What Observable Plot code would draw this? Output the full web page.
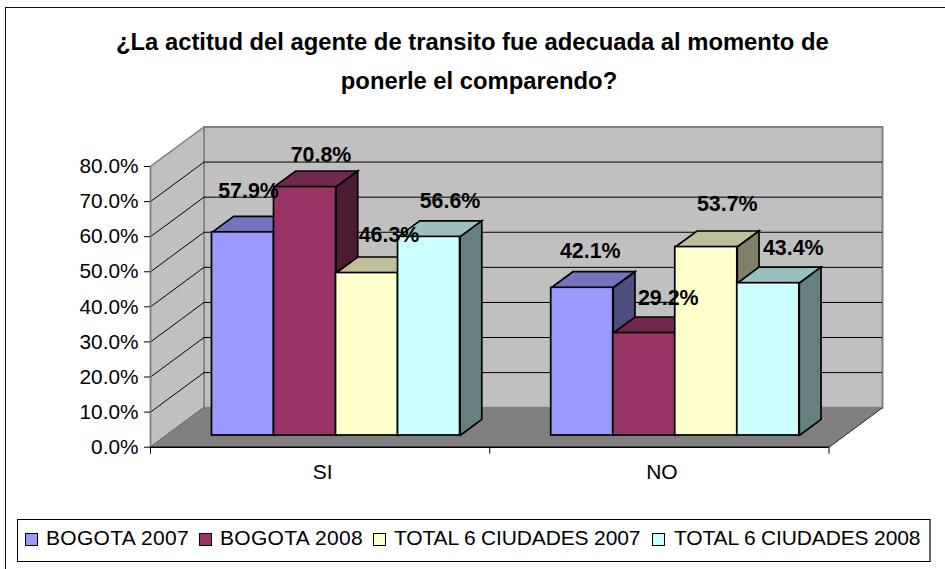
<!DOCTYPE html>
<html><head><meta charset="utf-8">
<script src="https://cdn.jsdelivr.net/npm/d3@7"></script>
<script src="https://cdn.jsdelivr.net/npm/@observablehq/plot@0.6"></script>
<style>
html,body{margin:0;padding:0;background:#fff;}
#page{position:relative;width:945px;height:569px;overflow:hidden;font-family:"Liberation Sans",Arial,sans-serif;color:#000;}
#frame{position:absolute;left:5px;top:7px;width:940px;height:562px;border-left:1.5px solid #111;border-top:1.5px solid #111;box-sizing:border-box;}
#title{position:absolute;left:0;top:22px;width:958px;text-align:center;font-weight:bold;font-size:23.8px;line-height:39px;}
#chart{position:absolute;left:0;top:0;}
#legend{position:absolute;left:17px;top:519px;width:914px;height:43px;border:1px solid #000;box-sizing:border-box;border-right:2px solid #666;}
.sw{position:absolute;top:13px;width:13px;height:13px;box-sizing:border-box;border:1.5px solid #000;}
.lb{position:absolute;top:5.5px;font-size:21px;line-height:24px;white-space:nowrap;}
</style></head>
<body><div id="page">
<div id="frame"></div>
<div id="title">¿La actitud del agente de transito fue adecuada al momento de&nbsp;&nbsp;<br>ponerle el comparendo?</div>
<div id="chart"></div>
<div id="legend"></div>
</div>
<script>
const categories = ["SI", "NO"];
const seriesNames = ["BOGOTA 2007", "BOGOTA 2008", "TOTAL 6 CIUDADES 2007", "TOTAL 6 CIUDADES 2008"];
const bogota2007 = [57.9, 42.1];
const bogota2008 = [70.8, 29.2];
const total2007 = [46.3, 53.7];
const total2008 = [56.6, 43.4];
const seriesValues = [bogota2007, bogota2008, total2007, total2008];
const yTicks = [0, 10, 20, 30, 40, 50, 60, 70, 80];

const colors = ["#9999FF", "#993366", "#FFFFCC", "#CCFFFF"];
const topColors = ["#7373BF", "#732650", "#BFBF99", "#99BFBF"];
const sideColors = ["#4D4D80", "#4D1A33", "#808066", "#668080"];
// label nudges in pixels, relative to the top centre of each bar front
const labelNudge = [
  [[5.5, -41], [16, -32], [22, -38], [21, -36]],
  [[8, -37], [24, -35], [21, -43], [25, -35]]
];

// oblique projection of the 3D box
const wallDX = 53.5, wallDY = 39.5;
const unitX = 339.25, unitY = 3.51;
const d0 = 0.297, d1 = 0.703;
const barW = 1 / 5.47, gap = (1 - 4 * barW) / 2;
const P = (xv, yv, d) => ({x: xv + d * wallDX / unitX, y: yv + d * wallDY / unitY});
const poly = (pts) => [...pts, pts[0]].map(([a, b, d]) => P(a, b, d));
const face = (pts, fill, stroke, strokeWidth) =>
  Plot.line(poly(pts), {x: "x", y: "y", fill, stroke, strokeWidth, strokeLinejoin: "miter", strokeMiterlimit: 4});

const marks = [
  face([[0, 0, 1], [2, 0, 1], [2, 80, 1], [0, 80, 1]], "#C0C0C0", "#808080", 2),
  face([[0, 0, 0], [0, 80, 0], [0, 80, 1], [0, 0, 1]], "#C0C0C0", "#808080", 1.5),
  Plot.ruleY(yTicks.slice(1, -1), {x1: () => 0, x2: () => 2, y: d => d, dx: wallDX, dy: -wallDY, stroke: "#000", strokeWidth: 1}),
  Plot.link(yTicks.slice(0, -1), {x1: () => 0, y1: d => d,
    x2: () => P(0, 0, 1).x, y2: d => P(0, d, 1).y, stroke: "#000", strokeWidth: 1}),
  face([[0, 0, 0], [2, 0, 0], [2, 0, 1], [0, 0, 1]], "#808080", "#808080", 1),
  Plot.link([0], {x1: () => 2, y1: () => 0, x2: () => P(2, 0, 1).x, y2: () => P(2, 0, 1).y, stroke: "#333", strokeWidth: 1}),
  Plot.ruleY([0], {x1: () => 0, x2: () => 2, stroke: "#000", strokeWidth: 1.5}),
  Plot.ruleX([0], {y1: () => 0, y2: () => 80, stroke: "#808080", strokeWidth: 1.5}),
  Plot.axisY({ticks: yTicks, tickFormat: d => d.toFixed(1) + "%", tickSize: 6, tickPadding: 6, fontSize: 20.8, label: null, stroke: "#000"}),
  Plot.axisX({ticks: [0, 1, 2], tickFormat: () => "", tickSize: 7, label: null}),
  Plot.text(categories, {x: (d, i) => i + 0.5, y: () => 0, text: d => d, dx: 2.5, dy: 25, fontSize: 21, fill: "#000"})
];

const labels = [];
categories.forEach((cat, ci) => {
  seriesNames.forEach((name, si) => {
    const v = seriesValues[si][ci];
    const L = ci + gap + si * barW, R = L + barW;
    marks.push(face([[L, v, d0], [L, v, d1], [R, v, d1], [R, v, d0]], topColors[si], "#000", 1.7));
    marks.push(face([[R, 0, d0], [R, v, d0], [R, v, d1], [R, 0, d1]], sideColors[si], "#000", 1.7));
    marks.push(Plot.rectY([{category: cat, series: name, value: v}], {
      x1: () => L, x2: () => R, y: "value",
      dx: d0 * wallDX, dy: -d0 * wallDY, fill: colors[si], stroke: "#000", strokeWidth: 1.7
    }));
    const [nx, ny] = labelNudge[ci][si];
    labels.push(Plot.text([{value: v}], {
      x: () => (L + R) / 2, y: "value", text: d => d.value.toFixed(1) + "%",
      dx: d0 * wallDX + nx, dy: -d0 * wallDY + ny, fontSize: 21.4, fontWeight: "bold", fill: "#000"
    }));
  });
});

const chart = Plot.plot({
  width: 945, height: 569,
  marginLeft: 150, marginRight: 116.5, marginTop: 166, marginBottom: 122.3,
  style: {fontFamily: "'Liberation Sans', Arial, sans-serif", background: "transparent", overflow: "visible", color: "#000"},
  x: {type: "linear", domain: [0, 2], axis: null},
  y: {type: "linear", domain: [0, 80], axis: null},
  marks: [...marks, ...labels]
});
document.getElementById("chart").append(chart);

const legend = document.getElementById("legend");
const swatchX = [7, 181, 355, 634];
const textX = [28, 202, 376, 656];
const tracking = ["0.3px", "0.3px", "-0.15px", "-0.15px"];
seriesNames.forEach((name, i) => {
  const s = document.createElement("span"); s.className = "sw"; s.style.left = swatchX[i] + "px"; s.style.background = colors[i];
  const t = document.createElement("span"); t.className = "lb"; t.style.left = textX[i] + "px"; t.style.letterSpacing = tracking[i]; t.textContent = name;
  legend.append(s, t);
});
</script>
</body></html>
